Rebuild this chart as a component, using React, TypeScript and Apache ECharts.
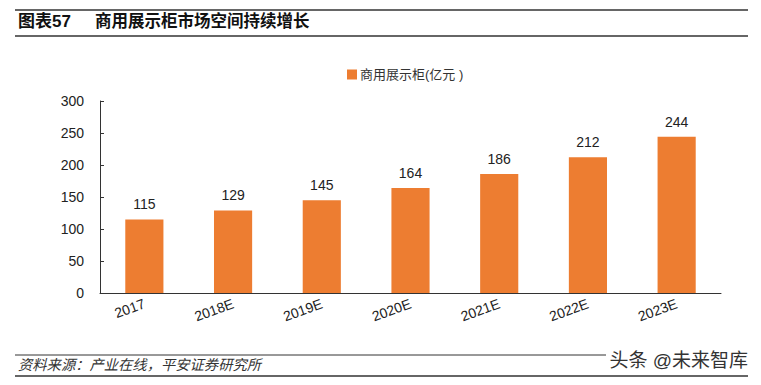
import React, { useEffect, useRef } from "react";
import * as echarts from "echarts";

const categories = ["2017", "2018E", "2019E", "2020E", "2021E", "2022E", "2023E"];
const values = [115, 129, 145, 164, 186, 212, 244];
const seriesName = "商用展示柜(亿元 )";
const yTicks = { min: 0, max: 300, interval: 50 };

const FONT = "'Liberation Sans', Arial, 'Noto Sans CJK SC', sans-serif";

export default function App() {
  const ref = useRef<HTMLDivElement>(null);
  useEffect(() => {
    if (!ref.current) return;
    const chart = echarts.init(ref.current, undefined, { renderer: "svg" });
    chart.setOption({
      animation: false,
      backgroundColor: "#fff",
      textStyle: { fontFamily: FONT },
      legend: {
        data: [seriesName],
        left: 342,
        top: 63,
        itemWidth: 10,
        itemHeight: 10,
        itemGap: 10,
        icon: "rect",
        textStyle: { fontSize: 13, color: "#333", fontFamily: FONT, padding: [0, 0, 0, -2] },
      },
      grid: { left: 100, right: 40, top: 101, bottom: 92, containLabel: false },
      xAxis: {
        type: "category",
        data: categories,
        axisLine: { lineStyle: { color: "#333", width: 1 } },
        axisTick: { inside: true, length: 4, lineStyle: { color: "#333" } },
        axisLabel: { rotate: 20, fontSize: 14, color: "#222", margin: 10, fontFamily: FONT },
      },
      yAxis: {
        type: "value",
        min: yTicks.min,
        max: yTicks.max,
        interval: yTicks.interval,
        splitLine: { show: false },
        axisLine: { show: true, lineStyle: { color: "#333", width: 1 } },
        axisTick: { show: true, inside: true, length: 4, lineStyle: { color: "#333" } },
        axisLabel: { fontSize: 14, color: "#222", margin: 16, fontFamily: FONT },
      },
      series: [
        {
          name: seriesName,
          type: "bar",
          data: values,
          barWidth: "43%",
          itemStyle: { color: "#ED7D31" },
          label: { show: true, position: "top", distance: 8, fontSize: 14, color: "#222", fontFamily: FONT },
        },
      ],
      graphic: [
        { type: "line", shape: { x1: 15, y1: 10, x2: 748, y2: 10 }, style: { stroke: "#333", lineWidth: 1.5 } },
        { type: "line", shape: { x1: 15, y1: 36, x2: 748, y2: 36 }, style: { stroke: "#333", lineWidth: 1.5 } },
        {
          type: "text",
          left: 18,
          top: 13,
          style: { text: "图表57", font: `bold 17px ${FONT}`, fill: "#111" },
        },
        {
          type: "text",
          left: 95,
          top: 13,
          style: { text: "商用展示柜市场空间持续增长", font: `bold 16.5px ${FONT}`, fill: "#111" },
        },
        { type: "line", shape: { x1: 15, y1: 355, x2: 748, y2: 355 }, style: { stroke: "#333", lineWidth: 1 } },
        { type: "line", shape: { x1: 15, y1: 376, x2: 748, y2: 376 }, style: { stroke: "#333", lineWidth: 1.5 } },
        {
          type: "text",
          left: 18,
          top: 358,
          style: { text: "资料来源：产业在线，平安证券研究所", font: `italic 14.3px ${FONT}`, fill: "#333" },
        },
        {
          type: "rect",
          shape: { x: 606, y: 350, width: 144, height: 22 },
          style: { fill: "#fff" },
        },
        {
          type: "text",
          right: 13,
          top: 351,
          style: { text: "头条 @未来智库", font: `19px ${FONT}`, fill: "#333" },
        },
      ],
    });
    return () => chart.dispose();
  }, []);
  return <div ref={ref} style={{ width: 761, height: 385, margin: -8 }} />;
}
